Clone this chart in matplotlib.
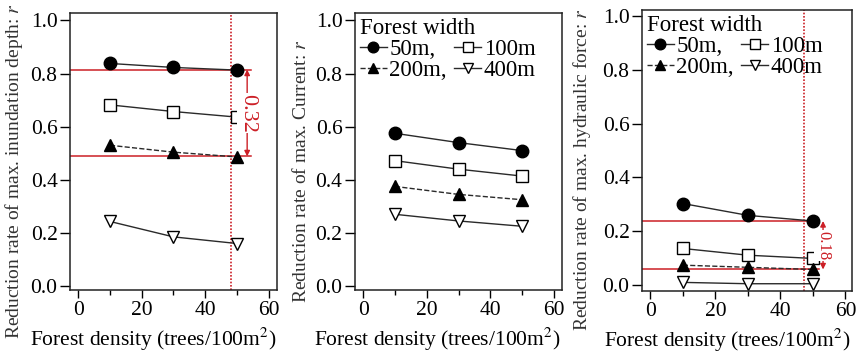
import matplotlib
matplotlib.use("Agg")
import matplotlib.pyplot as plt
from matplotlib.ticker import MultipleLocator

plt.rcParams['font.family'] = ['Liberation Serif', 'DejaVu Serif']
plt.rcParams['mathtext.fontset'] = 'stix'

# forest density (trees/100m2)
density = [10, 30, 50]
widths = ['50m', '100m', '200m', '400m']

# reduction rate of max. inundation depth
depth_50 = [0.838, 0.823, 0.813]
depth_100 = [0.682, 0.657, 0.636]
depth_200 = [0.530, 0.504, 0.486]
depth_400 = [0.243, 0.185, 0.160]

# reduction rate of max. current
current_50 = [0.575, 0.540, 0.510]
current_100 = [0.472, 0.440, 0.414]
current_200 = [0.375, 0.345, 0.325]
current_400 = [0.270, 0.245, 0.225]

# reduction rate of max. hydraulic force
force_50 = [0.303, 0.259, 0.238]
force_100 = [0.136, 0.111, 0.099]
force_200 = [0.074, 0.066, 0.058]
force_400 = [0.010, 0.005, 0.005]

# red marker lines: (upper level, lower level, dotted density, label)
depth_ref = (0.815, 0.488, 48.2, '0.32')
force_ref = (0.238, 0.058, 47.3, '0.18')

RED = '#cc1f26'
LINE = '#2a2a2a'
styles = [
    dict(marker='o', mfc='black', ls='-'),
    dict(marker='s', mfc='white', ls='-'),
    dict(marker='^', mfc='black', ls='--'),
    dict(marker='v', mfc='white', ls='-'),
]
msizes = [9, 8.5, 8.5, 8.5]


def draw_panel(ax, series, ylabel, ylim, xlim, ylab_x, xlab_x, xlab_y):
    for vals, st, ms, w in zip(series, styles, msizes, widths):
        ax.plot(density, vals, color=LINE, lw=1.0, mec='black', mew=1.0,
                ms=ms, label=w, **st)
    ax.set_xlim(*xlim)
    ax.set_ylim(*ylim)
    ax.xaxis.set_major_locator(MultipleLocator(20))
    ax.xaxis.set_minor_locator(MultipleLocator(10))
    ax.yaxis.set_major_locator(MultipleLocator(0.2))
    ax.yaxis.set_major_formatter(plt.FormatStrFormatter('%.1f'))
    ax.tick_params(axis='both', which='major', direction='out', length=6,
                   width=1.0, labelsize=15.5, pad=2)
    ax.tick_params(axis='x', which='minor', direction='out', length=3.5, width=1.0)
    ax.tick_params(axis='y', which='major', length=7)
    for s in ax.spines.values():
        s.set_linewidth(1.1)
        s.set_color('#222222')
    ax.set_xlabel('Forest density (trees/100m$^2$)', fontsize=15.5)
    ax.xaxis.set_label_coords(xlab_x, xlab_y)
    ax.set_ylabel(ylabel, fontsize=14, color='#333333')
    ax.yaxis.set_label_coords(ylab_x, 0.43)


def draw_ref(ax, ref, xend, xarrow, fs):
    top, bot, xv, txt = ref
    x0 = ax.get_xlim()[0]
    ax.plot([x0, xend], [top, top], color=RED, lw=1.1, zorder=1)
    ax.plot([x0, xend], [bot, bot], color=RED, lw=1.1, zorder=1)
    ax.axvline(xv, color=RED, lw=1.2, ls=(0, (1, 1)), zorder=1)
    ax.annotate('', xy=(xarrow, top), xytext=(xarrow, bot),
                arrowprops=dict(arrowstyle='<|-|>', color=RED, lw=1.0,
                                mutation_scale=8, shrinkA=0, shrinkB=0))
    ax.text(xarrow, (top + bot) / 2, txt, rotation=-90, color=RED,
            fontsize=fs, ha='center', va='center',
            bbox=dict(fc='white', ec='none', pad=0.5))


def draw_legend(ax):
    hs = ax.get_lines()[:4]
    labels = ['50m,', '200m,', '100m', '400m']
    leg = ax.legend([hs[0], hs[2], hs[1], hs[3]], labels, ncol=2,
                    title='Forest width', loc='upper left', frameon=False,
                    fontsize=16.5, title_fontsize=16.5, handlelength=1.2,
                    handletextpad=0.1, columnspacing=0.3, labelspacing=0.0,
                    borderaxespad=0.1, borderpad=0.1, markerscale=0.85)
    leg._legend_box.align = 'left'
    leg._legend_box.sep = 0


fig = plt.figure(figsize=(8.59, 3.54), dpi=100)
ax1 = fig.add_axes([70 / 859, 64 / 354, 207 / 859, 277 / 354])
ax2 = fig.add_axes([355 / 859, 64 / 354, 207 / 859, 277 / 354])
ax3 = fig.add_axes([642 / 859, 63 / 354, 210 / 859, 281 / 354])

draw_panel(ax1, [depth_50, depth_100, depth_200, depth_400],
           'Reduction rate of max. inundation depth: $r$',
           (-0.015, 1.028), (-2.6, 62.6), -0.217, 0.40, -0.128)
draw_ref(ax1, depth_ref, 54.5, 53.2, 16)

draw_panel(ax2, [current_50, current_100, current_200, current_400],
           'Reduction rate of max. Current: $r$',
           (-0.015, 1.028), (-2.6, 62.6), -0.217, 0.397, -0.128)
draw_legend(ax2)

draw_panel(ax3, [force_50, force_100, force_200, force_400],
           'Reduction rate of max. hydraulic force: $r$',
           (-0.022, 1.022), (-2.55, 62.0), -0.233, 0.405, -0.126)
draw_ref(ax3, force_ref, 51.8, 53.1, 12)
draw_legend(ax3)

fig.savefig('out.png', dpi=100)
